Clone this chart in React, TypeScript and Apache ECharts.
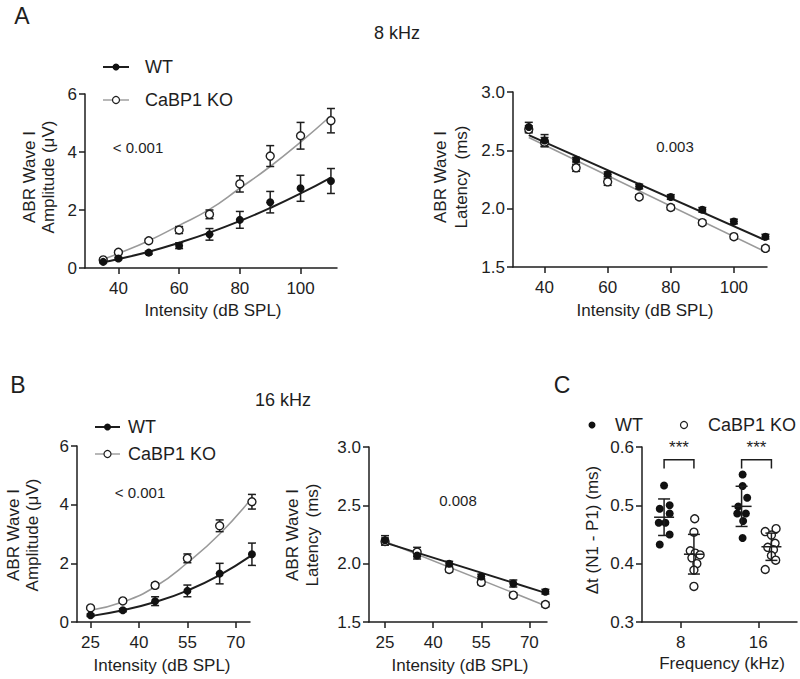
import React, { useEffect, useRef } from "react";
import * as echarts from "echarts";

const FONT = "'Liberation Sans', Arial, Helvetica, sans-serif";
const INK = "#1e1e1e";
const GREY = "#9a9a9a";

// ---------- Panel A (8 kHz) ----------
const intensityA = [35, 40, 50, 60, 70, 80, 90, 100, 110];
const ticksA = [40, 60, 80, 100];
const ampWT_A = [0.21, 0.33, 0.53, 0.77, 1.16, 1.66, 2.27, 2.75, 3.0];
const ampWT_A_err = [0.03, 0.04, 0.05, 0.1, 0.2, 0.29, 0.37, 0.45, 0.43];
const ampKO_A = [0.28, 0.54, 0.94, 1.31, 1.85, 2.9, 3.86, 4.56, 5.08];
const ampKO_A_err = [0.04, 0.05, 0.06, 0.12, 0.15, 0.28, 0.36, 0.46, 0.42];
const ampWT_A_fit = [0.2, 0.31, 0.56, 0.87, 1.22, 1.62, 2.07, 2.57, 3.12];
const ampKO_A_fit = [0.3, 0.5, 0.94, 1.47, 2.02, 2.75, 3.5, 4.34, 5.25];

const latWT_A = [2.7, 2.585, 2.42, 2.295, 2.19, 2.1, 1.99, 1.89, 1.76];
const latWT_A_err = [0.04, 0.05, 0.02, 0.02, 0.02, 0.02, 0.02, 0.02, 0.02];
const latKO_A = [2.68, 2.57, 2.35, 2.23, 2.1, 2.01, 1.88, 1.76, 1.66];
const latKO_A_err = [0.03, 0.04, 0.03, 0.03, 0.02, 0.02, 0.02, 0.02, 0.02];
const latFitX_A = [35, 110];
const latWT_A_fit = [2.63, 1.73];
const latKO_A_fit = [2.61, 1.63];

// ---------- Panel B (16 kHz) ----------
const intensityB = [25, 35, 45, 55, 65, 75];
const ticksB = [25, 40, 55, 70];
const ampWT_B = [0.23, 0.4, 0.71, 1.06, 1.65, 2.31];
const ampWT_B_err = [0.04, 0.05, 0.15, 0.2, 0.35, 0.38];
const ampKO_B = [0.48, 0.72, 1.25, 2.17, 3.28, 4.1];
const ampKO_B_err = [0.04, 0.06, 0.08, 0.15, 0.2, 0.25];
const ampWT_B_fit = [0.2, 0.4, 0.68, 1.07, 1.6, 2.28];
const ampKO_B_fit = [0.4, 0.68, 1.2, 2.02, 3.0, 4.23];

const latWT_B = [2.2, 2.07, 2.0, 1.89, 1.83, 1.76];
const latWT_B_err = [0.04, 0.03, 0.02, 0.02, 0.03, 0.02];
const latKO_B = [2.19, 2.1, 1.95, 1.84, 1.73, 1.65];
const latKO_B_err = [0.03, 0.04, 0.02, 0.02, 0.02, 0.02];
const latFitX_B = [25, 75];
const latWT_B_fit = [2.18, 1.75];
const latKO_B_fit = [2.19, 1.64];

// ---------- Panel C ----------
const freqLabels = ["8", "16"];
const dtWT_8 = [0.534, 0.494, 0.5, 0.486, 0.47, 0.47, 0.45, 0.433];
const dtKO_8 = [0.477, 0.454, 0.422, 0.418, 0.415, 0.41, 0.4, 0.389, 0.361];
const dtWT_16 = [0.553, 0.533, 0.513, 0.498, 0.486, 0.486, 0.473, 0.444];
const dtKO_16 = [0.455, 0.46, 0.449, 0.435, 0.428, 0.424, 0.414, 0.406, 0.39];
// horizontal scatter of the dots (axis units)
const jitWT_8 = [0, -0.056, 0.072, 0.072, -0.069, 0.017, 0.072, -0.056];
const jitKO_8 = [0.01, 0, -0.047, 0.017, 0.08, -0.026, 0.038, 0, 0];
const jitWT_16 = [0.013, 0.013, 0.072, -0.043, -0.056, 0.055, 0.02, 0.013];
const jitKO_16 = [-0.08, 0.06, 0, 0.047, -0.047, 0.026, 0, 0.055, -0.08];

const mean = (a: number[]) => a.reduce((s, v) => s + v, 0) / a.length;
const sd = (a: number[]) => {
  const m = mean(a);
  return Math.sqrt(a.reduce((s, v) => s + (v - m) * (v - m), 0) / (a.length - 1));
};

const axisLineStyle = { color: INK, width: 1.5 };
const TICK_FS = 17;

function xAxis(gi: number, min: number, max: number, ticks: number[], fmt?: (v: number) => string) {
  return {
    type: "value",
    gridIndex: gi,
    min,
    max,
    axisLine: { show: true, onZero: false, lineStyle: axisLineStyle },
    axisTick: { show: true, length: 6, lineStyle: axisLineStyle, customValues: ticks },
    axisLabel: {
      customValues: ticks,
      color: INK,
      fontSize: TICK_FS,
      fontFamily: FONT,
      margin: 12,
      formatter: fmt ? fmt : (v: number) => String(v),
    },
    splitLine: { show: false },
  };
}

function yAxis(gi: number, min: number, max: number, interval: number, dec: number) {
  return {
    type: "value",
    gridIndex: gi,
    min,
    max,
    interval,
    axisLine: { show: true, onZero: false, lineStyle: axisLineStyle },
    axisTick: { show: true, length: 6, lineStyle: axisLineStyle },
    axisLabel: {
      color: INK,
      fontSize: TICK_FS,
      fontFamily: FONT,
      margin: 8,
      formatter: (v: number) => v.toFixed(dec),
    },
    splitLine: { show: false },
  };
}

function fitLine(gi: number, xs: number[], ys: number[], color: string, width: number, smooth: boolean) {
  return {
    type: "line",
    xAxisIndex: gi,
    yAxisIndex: gi,
    data: xs.map((x, i) => [x, ys[i]]),
    symbol: "none",
    smooth,
    clip: false,
    silent: true,
    z: 2,
    lineStyle: { color, width },
  };
}

function errBars(gi: number, xs: number[], ys: number[], errs: number[], color: string) {
  return {
    type: "custom",
    xAxisIndex: gi,
    yAxisIndex: gi,
    clip: false,
    silent: true,
    z: 3,
    encode: { x: 0, y: [1, 2] },
    data: xs.map((x, i) => [x, ys[i] - errs[i], ys[i] + errs[i]]),
    renderItem: (_p: any, api: any) => {
      const lo = api.coord([api.value(0), api.value(1)]);
      const hi = api.coord([api.value(0), api.value(2)]);
      const w = 4;
      const style = { stroke: color, lineWidth: 1.5 };
      return {
        type: "group",
        children: [
          { type: "line", shape: { x1: lo[0], y1: lo[1], x2: hi[0], y2: hi[1] }, style },
          { type: "line", shape: { x1: lo[0] - w, y1: lo[1], x2: lo[0] + w, y2: lo[1] }, style },
          { type: "line", shape: { x1: hi[0] - w, y1: hi[1], x2: hi[0] + w, y2: hi[1] }, style },
        ],
      };
    },
  };
}

function dots(gi: number, xs: number[], ys: number[], open: boolean, size = 8) {
  return {
    type: "scatter",
    xAxisIndex: gi,
    yAxisIndex: gi,
    data: xs.map((x, i) => [x, ys[i]]),
    symbol: "circle",
    symbolSize: size,
    clip: false,
    silent: true,
    z: open ? 4 : 5,
    itemStyle: open
      ? { color: "#ffffff", borderColor: INK, borderWidth: 1.4, opacity: 1 }
      : { color: "#111111", borderColor: "#111111", borderWidth: 0, opacity: 1 },
  };
}

function panelSeries(
  gi: number,
  xs: number[],
  wt: number[],
  wtErr: number[],
  ko: number[],
  koErr: number[],
  fitXs: number[],
  wtFit: number[],
  koFit: number[],
  smooth: boolean
) {
  return [
    fitLine(gi, fitXs, koFit, GREY, 1.6, smooth),
    fitLine(gi, fitXs, wtFit, INK, 2, smooth),
    errBars(gi, xs, ko, koErr, INK),
    errBars(gi, xs, wt, wtErr, INK),
    dots(gi, xs, ko, true),
    dots(gi, xs, wt, false),
  ];
}

// Panel C group positions on its value axis (8 kHz -> 1, 16 kHz -> 2)
const WT_OFF = -0.215;
const KO_OFF = 0.17;

function groupDots(pos: number, vals: number[], jit: number[], open: boolean) {
  return dots(4, vals.map((_, i) => pos + jit[i]), vals, open, 8);
}

function meanSd(groups: { x: number; vals: number[] }[]) {
  return {
    type: "custom",
    xAxisIndex: 4,
    yAxisIndex: 4,
    clip: false,
    silent: true,
    z: 6,
    encode: { x: 0, y: [1, 2, 3] },
    data: groups.map((g) => {
      const m = mean(g.vals);
      const s = sd(g.vals);
      return [g.x, m, m - s, m + s];
    }),
    renderItem: (_p: any, api: any) => {
      const c = api.coord([api.value(0), api.value(1)]);
      const lo = api.coord([api.value(0), api.value(2)]);
      const hi = api.coord([api.value(0), api.value(3)]);
      const style = { stroke: INK, lineWidth: 1.5 };
      return {
        type: "group",
        children: [
          { type: "line", shape: { x1: c[0] - 10, y1: c[1], x2: c[0] + 10, y2: c[1] }, style },
          { type: "line", shape: { x1: lo[0], y1: lo[1], x2: hi[0], y2: hi[1] }, style },
          { type: "line", shape: { x1: lo[0] - 6, y1: lo[1], x2: lo[0] + 6, y2: lo[1] }, style },
          { type: "line", shape: { x1: hi[0] - 6, y1: hi[1], x2: hi[0] + 6, y2: hi[1] }, style },
        ],
      };
    },
  };
}

const bracketTop = 0.578;
const bracketLeg = 0.563;
const starsY = 0.6;

function brackets(centers: number[]) {
  return {
    type: "custom",
    xAxisIndex: 4,
    yAxisIndex: 4,
    clip: false,
    silent: true,
    z: 6,
    encode: { x: [0, 1], y: [2, 3, 4] },
    data: centers.map((c) => [c + WT_OFF, c + KO_OFF, bracketTop, bracketLeg, starsY]),
    renderItem: (_p: any, api: any) => {
      const a = api.coord([api.value(0), api.value(3)]);
      const b = api.coord([api.value(0), api.value(2)]);
      const c = api.coord([api.value(1), api.value(2)]);
      const d = api.coord([api.value(1), api.value(3)]);
      const t = api.coord([(api.value(0) + api.value(1)) / 2, api.value(4)]);
      return {
        type: "group",
        children: [
          {
            type: "polyline",
            shape: { points: [a, b, c, d] },
            style: { stroke: INK, lineWidth: 1.5, fill: "none" },
          },
          {
            type: "text",
            x: t[0],
            y: t[1],
            style: {
              text: "***",
              fill: INK,
              fontSize: 17,
              fontFamily: FONT,
              align: "center",
              verticalAlign: "middle",
            },
          },
        ],
      };
    },
  };
}

function txt(text: string, x: number, y: number, size: number, align = "center", rot = 0, lh?: number) {
  return {
    type: "text",
    x,
    y,
    rotation: rot,
    z: 20,
    silent: true,
    style: {
      text,
      fill: INK,
      fontSize: size,
      fontFamily: FONT,
      align,
      verticalAlign: "middle",
      lineHeight: lh,
    },
  };
}

function legendRow(x0: number, x1: number, y: number, tx: number, label: string, open: boolean) {
  const color = open ? GREY : INK;
  return [
    { type: "line", z: 20, shape: { x1: x0, y1: y, x2: x1, y2: y }, style: { stroke: color, lineWidth: open ? 1.4 : 2 } },
    {
      type: "circle",
      z: 21,
      shape: { cx: (x0 + x1) / 2, cy: y, r: 3.5 },
      style: open ? { fill: "#fff", stroke: INK, lineWidth: 1.2 } : { fill: "#111", stroke: "#111", lineWidth: 0 },
    },
    txt(label, tx, y, 18, "left"),
  ];
}

const ROT = Math.PI / 2;

export default function App() {
  const ref = useRef<HTMLDivElement>(null);

  useEffect(() => {
    if (!ref.current) return;
    const chart = echarts.init(ref.current, undefined, { renderer: "svg" });

    const option: any = {
      animation: false,
      backgroundColor: "#ffffff",
      textStyle: { fontFamily: FONT },
      grid: [
        { left: 85, top: 94, width: 252, height: 174 },
        { left: 513, top: 92, width: 254, height: 175 },
        { left: 77, top: 446, width: 173, height: 176 },
        { left: 369, top: 447, width: 178, height: 175 },
        { left: 642, top: 447, width: 155, height: 175 },
      ],
      xAxis: [
        xAxis(0, 29, 112, ticksA),
        xAxis(1, 30, 110.5, ticksA),
        xAxis(2, 20.8, 74.4, ticksB),
        xAxis(3, 20, 75.5, ticksB),
        xAxis(4, 0.5, 2.5, [1, 2], (v: number) => freqLabels[Math.round(v) - 1] ?? ""),
      ],
      yAxis: [
        yAxis(0, 0, 6, 2, 0),
        yAxis(1, 1.5, 3, 0.5, 1),
        yAxis(2, 0, 6, 2, 0),
        yAxis(3, 1.5, 3, 0.5, 1),
        yAxis(4, 0.3, 0.6, 0.1, 1),
      ],
      series: [
        ...panelSeries(0, intensityA, ampWT_A, ampWT_A_err, ampKO_A, ampKO_A_err, intensityA, ampWT_A_fit, ampKO_A_fit, true),
        ...panelSeries(1, intensityA, latWT_A, latWT_A_err, latKO_A, latKO_A_err, latFitX_A, latWT_A_fit, latKO_A_fit, false),
        ...panelSeries(2, intensityB, ampWT_B, ampWT_B_err, ampKO_B, ampKO_B_err, intensityB, ampWT_B_fit, ampKO_B_fit, true),
        ...panelSeries(3, intensityB, latWT_B, latWT_B_err, latKO_B, latKO_B_err, latFitX_B, latWT_B_fit, latKO_B_fit, false),
        groupDots(1 + WT_OFF, dtWT_8, jitWT_8, false),
        groupDots(1 + KO_OFF, dtKO_8, jitKO_8, true),
        groupDots(2 + WT_OFF, dtWT_16, jitWT_16, false),
        groupDots(2 + KO_OFF, dtKO_16, jitKO_16, true),
        meanSd([
          { x: 1 + WT_OFF, vals: dtWT_8 },
          { x: 1 + KO_OFF, vals: dtKO_8 },
          { x: 2 + WT_OFF, vals: dtWT_16 },
          { x: 2 + KO_OFF, vals: dtKO_16 },
        ]),
        brackets([1, 2]),
      ],
      graphic: [
        txt("A", 22, 16, 23),
        txt("B", 18, 385, 23),
        txt("C", 562, 385, 23),
        txt("8 kHz", 397, 33, 18),
        txt("16 kHz", 283, 400, 18),
        // axis titles
        txt("ABR Wave I\nAmplitude (μV)", 39, 177, 17, "center", ROT, 19),
        txt("ABR Wave I\nLatency  (ms)", 451, 177, 17, "center", ROT, 21),
        txt("ABR Wave I\nAmplitude (μV)", 23, 535, 17, "center", ROT, 19),
        txt("ABR Wave I\nLatency  (ms)", 302, 535, 17, "center", ROT, 20),
        txt("Δt (N1 - P1) (ms)", 592, 530, 17, "center", ROT),
        txt("Intensity (dB SPL)", 213, 310, 17),
        txt("Intensity (dB SPL)", 645, 310, 17),
        txt("Intensity (dB SPL)", 162, 665, 17),
        txt("Intensity (dB SPL)", 460, 665, 17),
        txt("Frequency (kHz)", 722, 663, 17),
        // p values
        txt("< 0.001", 138, 147, 15),
        txt("0.003", 675, 146, 15),
        txt("< 0.001", 140, 492, 15),
        txt("0.008", 458, 500, 15),
        // legends
        ...legendRow(103, 129, 67, 145, "WT", false),
        ...legendRow(103, 129, 100, 145, "CaBP1 KO", true),
        ...legendRow(95, 120, 427, 128, "WT", false),
        ...legendRow(95, 120, 454, 128, "CaBP1 KO", true),
        { type: "circle", z: 21, shape: { cx: 592, cy: 425, r: 3.5 }, style: { fill: "#111" } },
        txt("WT", 615, 425, 18, "left"),
        { type: "circle", z: 21, shape: { cx: 684, cy: 425, r: 3.5 }, style: { fill: "#fff", stroke: INK, lineWidth: 1.2 } },
        txt("CaBP1 KO", 708, 425, 18, "left"),
      ],
    };

    chart.setOption(option);
    return () => chart.dispose();
  }, []);

  return (
    <div
      ref={ref}
      style={{ position: "fixed", left: 0, top: 0, width: 800, height: 679, background: "#fff" }}
    />
  );
}
